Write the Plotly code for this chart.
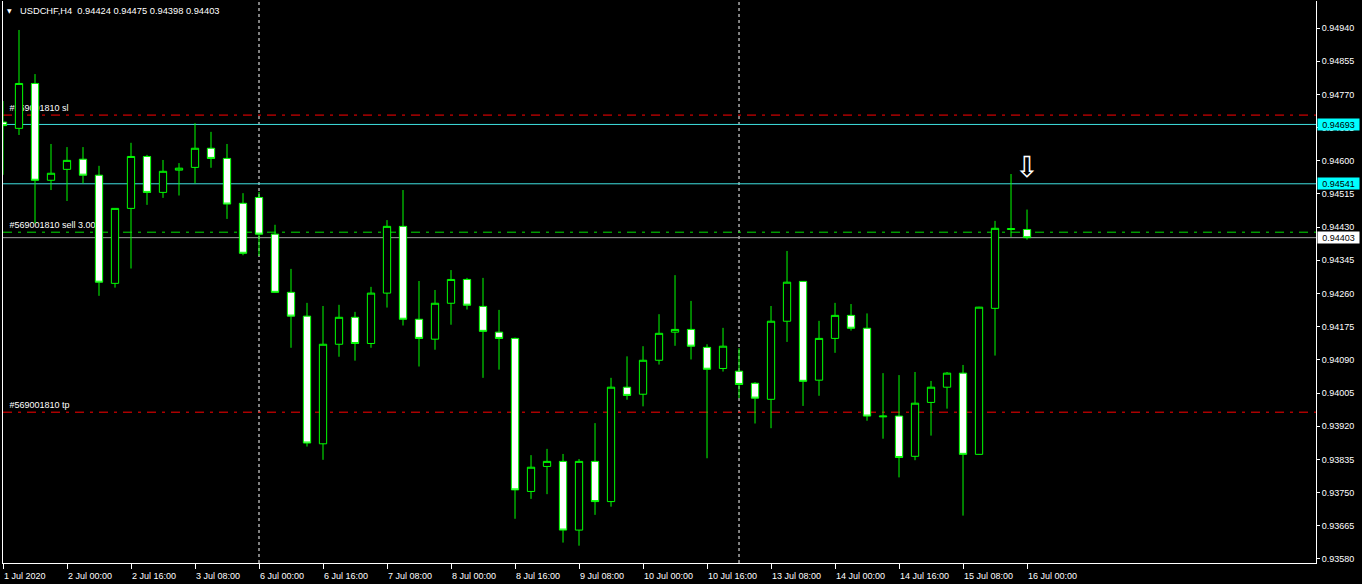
import plotly.graph_objects as go

# ---- data (USDCHF, H4) ----
opens = [0.94699, 0.94683, 0.94798, 0.94550, 0.94578, 0.94604, 0.94563, 0.94286, 0.94478, 0.94611,
         0.94519, 0.94576, 0.94583, 0.94632, 0.94606, 0.94491, 0.94506, 0.94412, 0.94263, 0.94202,
         0.93875, 0.94130, 0.94199, 0.94132, 0.94261, 0.94432, 0.94194, 0.94143, 0.94235, 0.94296,
         0.94227, 0.94161, 0.94145, 0.93753, 0.93817, 0.93830, 0.93654, 0.93830, 0.93727, 0.94020,
         0.94002, 0.94089, 0.94161, 0.94168, 0.94122, 0.94068, 0.94061, 0.94030, 0.93989, 0.94189,
         0.94291, 0.94038, 0.94145, 0.94204, 0.94171, 0.93944, 0.93946, 0.93843, 0.93981, 0.94020,
         0.94056, 0.93848, 0.94222, 0.94424, 0.94424]
highs = [0.94753, 0.94935, 0.94822, 0.94643, 0.94635, 0.94635, 0.94587, 0.94478, 0.94646, 0.94615,
         0.94602, 0.94594, 0.94696, 0.94674, 0.94643, 0.94517, 0.94520, 0.94436, 0.94323, 0.94236,
         0.94228, 0.94231, 0.94213, 0.94277, 0.94448, 0.94525, 0.94292, 0.94269, 0.94320, 0.94300,
         0.94300, 0.94218, 0.94147, 0.93846, 0.93862, 0.93849, 0.93836, 0.93928, 0.94044, 0.94099,
         0.94125, 0.94207, 0.94307, 0.94241, 0.94130, 0.94172, 0.94120, 0.94033, 0.94228, 0.94369,
         0.94291, 0.94190, 0.94236, 0.94233, 0.94209, 0.94056, 0.94051, 0.94059, 0.94036, 0.94059,
         0.94077, 0.94226, 0.94446, 0.94566, 0.94475]
lows = [0.94564, 0.94666, 0.94440, 0.94525, 0.94497, 0.94542, 0.94254, 0.94275, 0.94324, 0.94487,
        0.94505, 0.94511, 0.94542, 0.94582, 0.94451, 0.94358, 0.94356, 0.94262, 0.94121, 0.93868,
        0.93834, 0.94098, 0.94088, 0.94121, 0.94224, 0.94178, 0.94073, 0.94116, 0.94180, 0.94219,
        0.94044, 0.94065, 0.93683, 0.93734, 0.93746, 0.93622, 0.93614, 0.93693, 0.93714, 0.93988,
        0.93971, 0.94078, 0.94126, 0.94091, 0.93838, 0.94060, 0.93992, 0.93927, 0.93915, 0.94136,
        0.93972, 0.93998, 0.94108, 0.94165, 0.93934, 0.93888, 0.93789, 0.93833, 0.93896, 0.93965,
        0.93691, 0.93847, 0.94101, 0.94405, 0.94398]
closes = [0.94690, 0.94798, 0.94550, 0.94568, 0.94601, 0.94563, 0.94289, 0.94478, 0.94611, 0.94519,
          0.94573, 0.94581, 0.94632, 0.94606, 0.94489, 0.94363, 0.94412, 0.94263, 0.94202, 0.93877,
          0.94130, 0.94199, 0.94132, 0.94261, 0.94432, 0.94194, 0.94145, 0.94235, 0.94296, 0.94230,
          0.94163, 0.94145, 0.93757, 0.93815, 0.93830, 0.93654, 0.93830, 0.93727, 0.94020, 0.93999,
          0.94089, 0.94158, 0.94168, 0.94125, 0.94066, 0.94125, 0.94027, 0.93992, 0.94189, 0.94289,
          0.94035, 0.94145, 0.94204, 0.94171, 0.93946, 0.93946, 0.93840, 0.93979, 0.94020, 0.94056,
          0.93848, 0.94225, 0.94427, 0.94426, 0.94403]

x_tick_bars = [0, 4, 8, 12, 16, 20, 24, 28, 32, 36, 40, 44, 48, 52, 56, 60, 64]
x_tick_labels = ["1 Jul 2020", "2 Jul 00:00", "2 Jul 16:00", "3 Jul 08:00", "6 Jul 00:00",
                 "6 Jul 16:00", "7 Jul 08:00", "8 Jul 00:00", "8 Jul 16:00", "9 Jul 08:00",
                 "10 Jul 00:00", "10 Jul 16:00", "13 Jul 08:00", "14 Jul 00:00", "14 Jul 16:00",
                 "15 Jul 08:00", "16 Jul 00:00"]
y_tick_vals = [0.93580, 0.93665, 0.93750, 0.93835, 0.93920, 0.94005, 0.94090, 0.94175, 0.94260,
               0.94345, 0.94430, 0.94515, 0.94600, 0.94685, 0.94770, 0.94855, 0.94940]
y_tick_labels = ["0.93580", "0.93665", "0.93750", "0.93835", "0.93920", "0.94005", "0.94090",
                 "0.94175", "0.94260", "0.94345", "0.94430", "0.94515", "0.94600", "0.94685",
                 "0.94770", "0.94855", "0.94940"]

order_id = "#569001810"
sl_price = 0.94717
tp_price = 0.93956
entry_price = 0.94417
bid_price = 0.94403
level_prices = [0.94693, 0.94541]
separator_bars = [16, 46]
signal_bar = 64
signal_price = 0.94578

FONT = "Liberation Sans, Arial, sans-serif"
x_index = list(range(len(opens)))

fig = go.Figure()
fig.add_trace(go.Candlestick(
    x=x_index, open=opens, high=highs, low=lows, close=closes,
    increasing=dict(line=dict(color="#00ff00", width=1), fillcolor="#000000"),
    decreasing=dict(line=dict(color="#00ff00", width=1), fillcolor="#ffffff"),
    whiskerwidth=0, hoverinfo="skip",
))
fig.add_trace(go.Scatter(
    x=[signal_bar], y=[signal_price], mode="text", text=["\u21e9"],
    textfont=dict(size=29, color="white", family="DejaVu Sans"), hoverinfo="skip",
))

shapes = []
# period separators
for b in separator_bars:
    shapes.append(dict(type="line", xref="x", yref="paper", x0=b, x1=b, y0=0, y1=1,
                       line=dict(color="white", width=1, dash="3px,3px"), layer="below"))
dashdot = "9px,6px,3px,6px"
for p in level_prices:
    shapes.append(dict(type="line", xref="paper", yref="y", x0=0, x1=1, y0=p, y1=p,
                       line=dict(color="#3fe0e0", width=1), layer="below"))
shapes.append(dict(type="line", xref="paper", yref="y", x0=0, x1=1, y0=sl_price, y1=sl_price,
                   line=dict(color="#ff0000", width=1, dash=dashdot), layer="below"))
shapes.append(dict(type="line", xref="paper", yref="y", x0=0, x1=1, y0=tp_price, y1=tp_price,
                   line=dict(color="#ff0000", width=1, dash=dashdot), layer="below"))
shapes.append(dict(type="line", xref="paper", yref="y", x0=0, x1=1, y0=entry_price, y1=entry_price,
                   line=dict(color="#00e000", width=1, dash=dashdot), layer="below"))
shapes.append(dict(type="line", xref="paper", yref="y", x0=0, x1=1, y0=bid_price, y1=bid_price,
                   line=dict(color="#a0a0a0", width=1), layer="below"))
# order labels (under the candles)
for txt, p in [(order_id + " sl", sl_price), (order_id + " sell 3.00", entry_price),
               (order_id + " tp", tp_price)]:
    shapes.append(dict(type="line", xref="x", yref="y", x0=0.4, x1=20, y0=p, y1=p,
                       line=dict(color="rgba(0,0,0,0)", width=1), layer="below",
                       label=dict(text=txt, textposition="start", yanchor="bottom", padding=3,
                                  font=dict(color="white", size=9, family=FONT))))

annotations = [
    dict(xref="paper", yref="paper", x=(18 - 3) / 1313, y=1 - (10.5 - 1) / 562,
         xanchor="left", yanchor="middle", showarrow=False,
         text="USDCHF,H4 \u00a00.94424 0.94475 0.94398 0.94403",
         font=dict(color="white", size=9.3, family=FONT)),
    dict(xref="paper", yref="paper", x=(9 - 3) / 1313, y=1 - (10.5 - 1) / 562,
         xanchor="center", yanchor="middle", showarrow=False, text="\u25bc",
         font=dict(color="white", size=6, family="DejaVu Sans")),
]
for p, bg in [(level_prices[0], "#00ffff"), (level_prices[1], "#00ffff"), (bid_price, "#ffffff")]:
    annotations.append(dict(xref="paper", yref="y", x=1, y=p, xanchor="left", yanchor="middle",
                            xshift=1, showarrow=False, text=f"{p:.5f}", bgcolor=bg,
                            width=41, height=11, borderpad=0,
                            font=dict(color="black", size=9, family=FONT)))

fig.update_layout(
    width=1362, height=584,
    margin=dict(l=3, r=46, t=1, b=21),
    paper_bgcolor="black", plot_bgcolor="black",
    showlegend=False, hovermode=False, boxgap=0.35,
    shapes=shapes, annotations=annotations,
    xaxis=dict(range=[0, 82.06], tickvals=x_tick_bars, ticktext=x_tick_labels,
               ticks="outside", ticklen=5, tickcolor="white", tickwidth=1,
               ticklabelposition="outside right", ticklabelstandoff=4,
               showline=True, linecolor="white", linewidth=1,
               showgrid=False, zeroline=False, rangeslider=dict(visible=False),
               tickfont=dict(color="white", size=9, family=FONT)),
    yaxis=dict(side="right", range=[0.935697, 0.950092], tickvals=y_tick_vals,
               ticktext=y_tick_labels, ticks="outside", ticklen=3, tickcolor="white",
               showline=True, mirror=True, linecolor="white", linewidth=1,
               showgrid=False, zeroline=False,
               tickfont=dict(color="white", size=9, family=FONT)),
)

fig.write_html("out.html", config={"displayModeBar": False},
               post_script="document.body.style.margin='0';document.body.style.overflow='hidden';")
